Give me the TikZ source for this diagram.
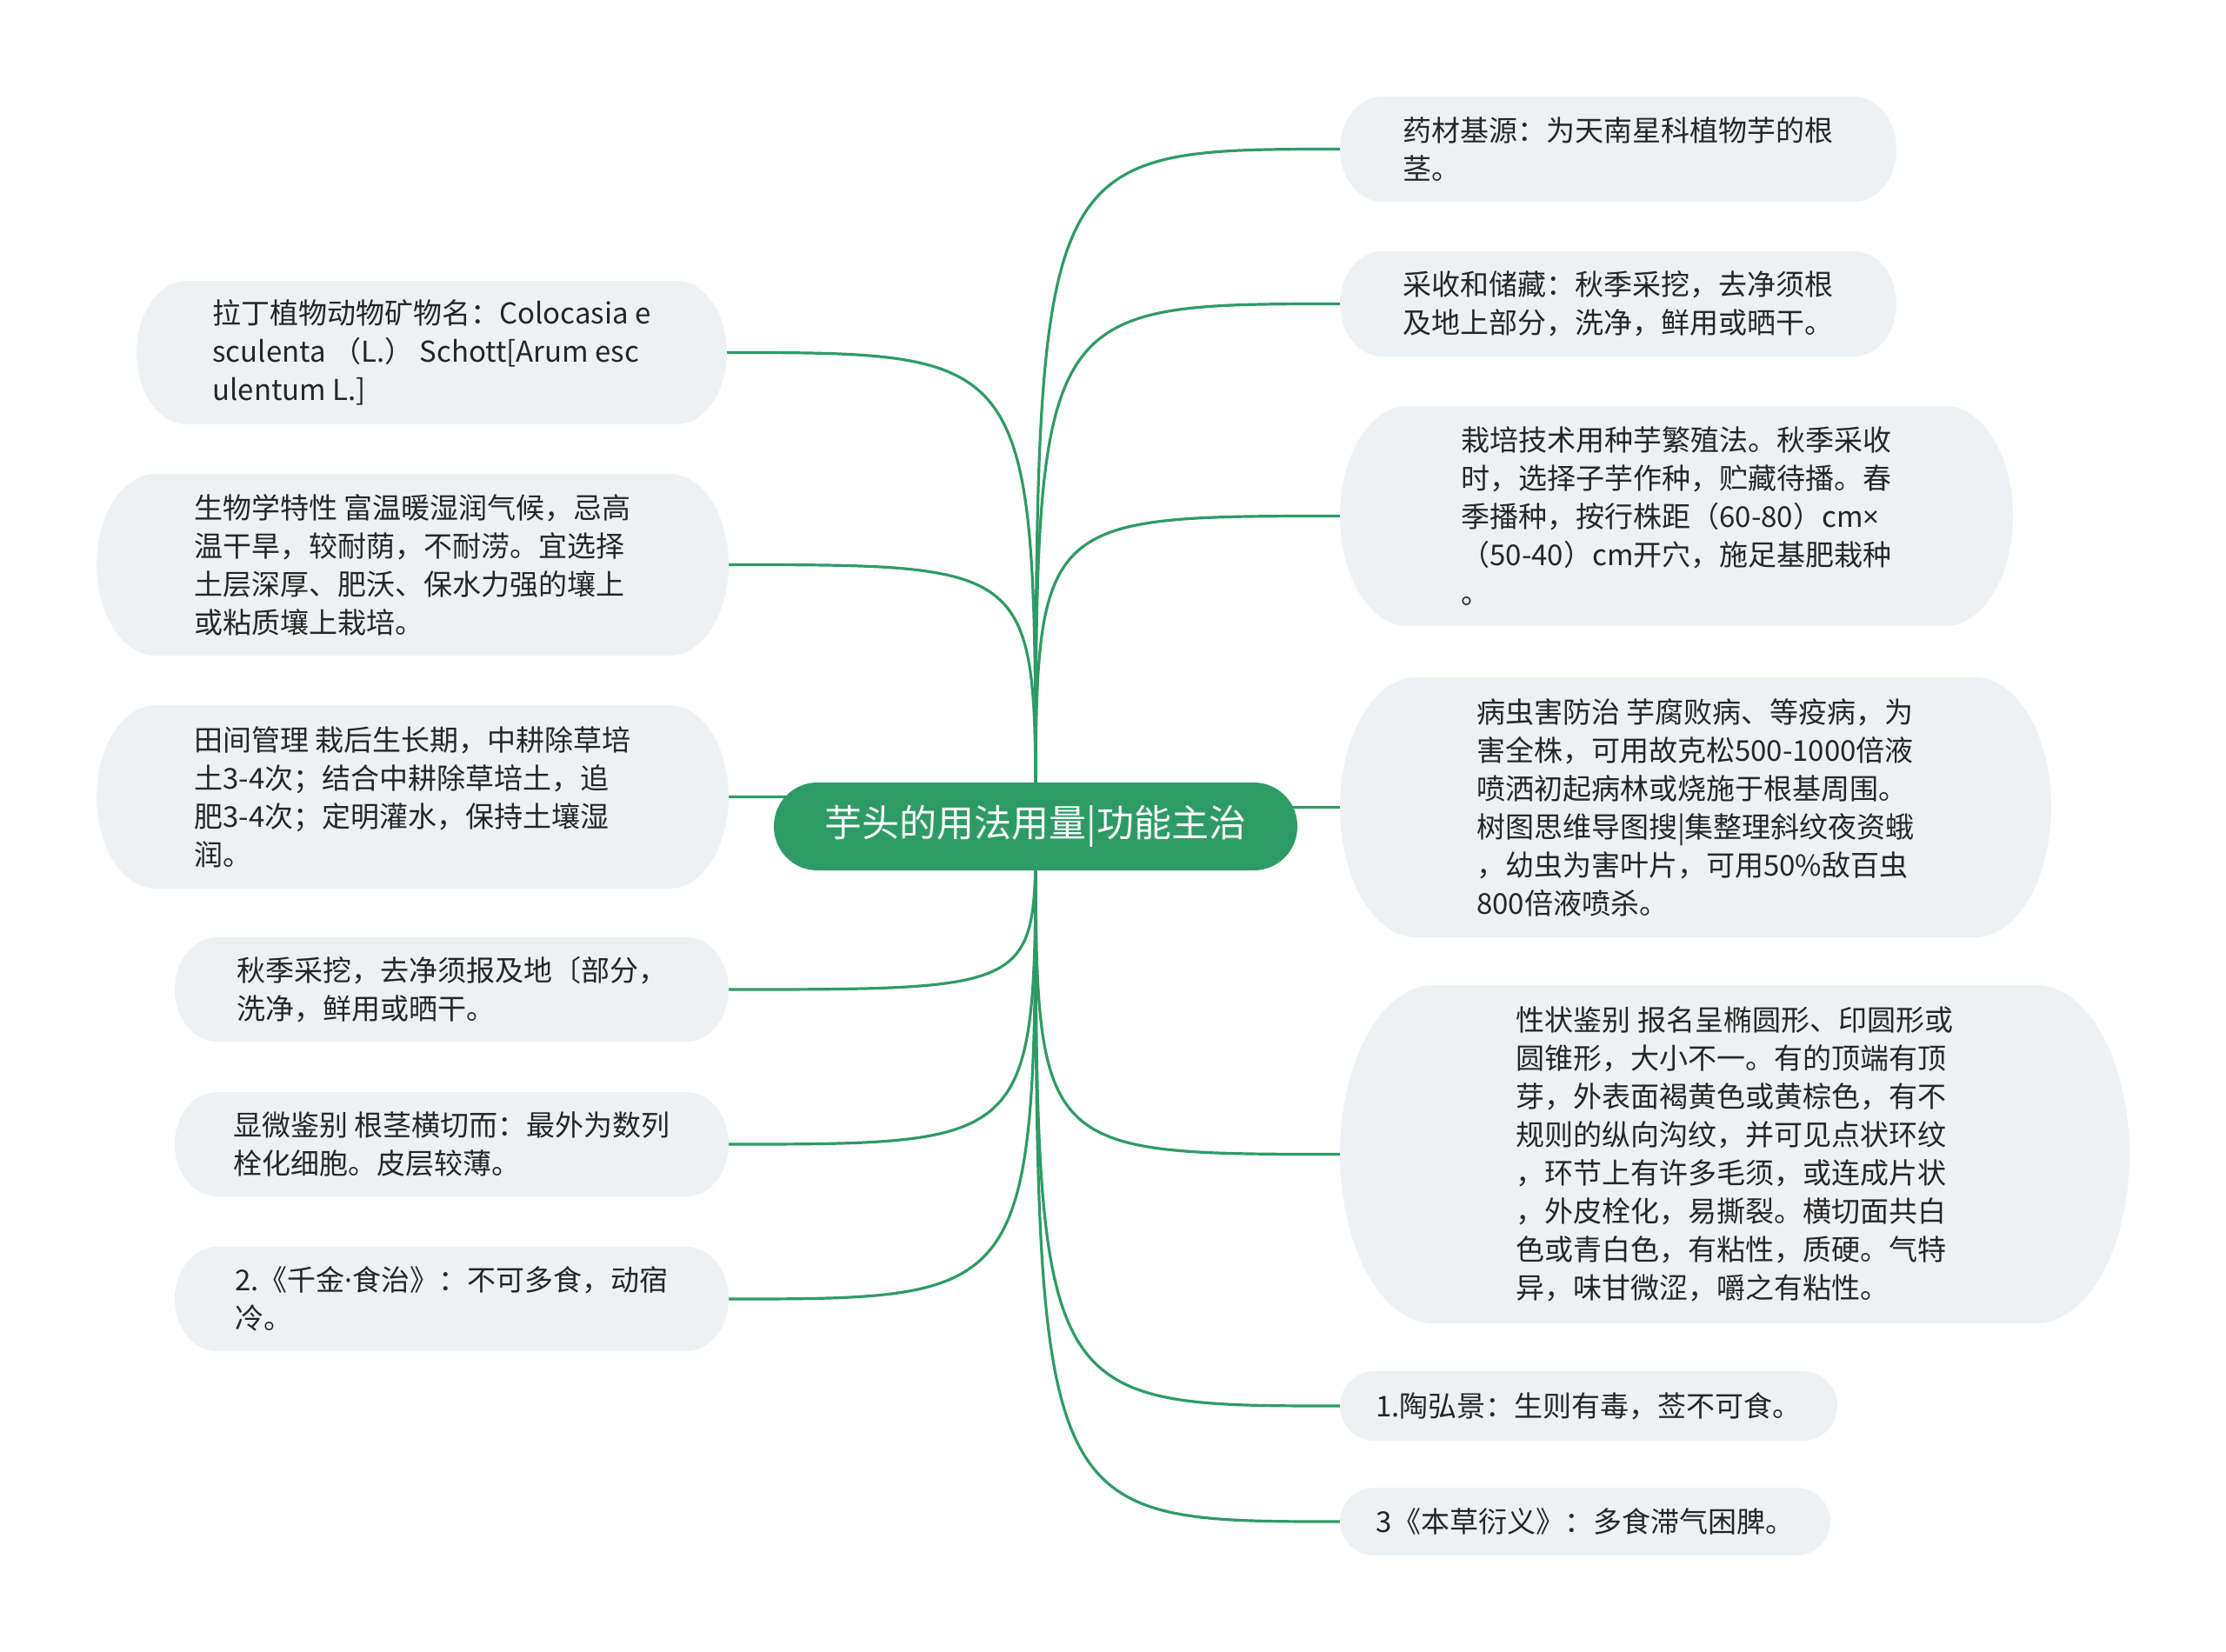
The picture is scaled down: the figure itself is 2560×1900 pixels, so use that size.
\documentclass[tikz,border=0pt]{standalone}
\usepackage{fontspec}
\setmainfont{Noto Sans CJK SC}
\newfontfamily\latinf{Noto Sans}
\usetikzlibrary{calc}
\definecolor{boxfill}{HTML}{EEF1F4}
\definecolor{mgreen}{HTML}{2E9B66}
\definecolor{txt}{HTML}{262626}
\pgfdeclarelayer{bg}
\pgfsetlayers{bg,main}
\newcommand\bubble[6]{%
  \pgfmathsetmacro\bh{(#5-#3)/2}%
  \pgfmathsetmacro\brx{0.22*(#5-#3)+22}%
  \fill[boxfill] (#2+\brx,#3) -- (#4-\brx,#3)
    arc[start angle=-90,end angle=90,x radius=\brx,y radius=\bh]
    -- (#2+\brx,#5)
    arc[start angle=90,end angle=270,x radius=\brx,y radius=\bh] -- cycle;
  \node[bubtext,minimum width={#4-#2},minimum height={#5-#3}] (#1) at ({(#2+#4)/2},{(#3+#5)/2}) {#6};
}
\tikzset{
  bubtext/.style={rectangle,inner sep=0pt,align=left,text=txt,font=\fontsize{33}{44}\selectfont},
  conn/.style={draw=mgreen,line width=3.2pt},
  centre/.style={rectangle,rounded corners=50pt,fill=mgreen,text=white,inner sep=0pt,font=\fontsize{43}{50}\selectfont}
}
\begin{document}
\begin{tikzpicture}[x=1pt,y=-1pt]
\useasboundingbox (0,0) rectangle (2560,1900);
\node[centre,minimum width=602,minimum height=101] (c) at (1191,950.5) {芋头的用法用量|功能主治};
\bubble{l1}{157}{323}{836}{488}{拉丁植物动物矿物名：Colocasia e\\sculenta （L.） Schott[Arum esc\\ulentum L.]}
\bubble{l2}{111}{545}{838}{754}{生物学特性 富温暖湿润气候，忌高\\温干旱，较耐荫，不耐涝。宜选择\\土层深厚、肥沃、保水力强的壤上\\或粘质壤上栽培。}
\bubble{l3}{111}{811}{838}{1022}{田间管理 栽后生长期，中耕除草培\\土3-4次；结合中耕除草培土，追\\肥3-4次；定明灌水，保持土壤湿\\润。}
\bubble{l4}{201}{1078}{838}{1198}{秋季采挖，去净须报及地〔部分，\\洗净，鲜用或晒干。}
\bubble{l5}{201}{1256}{838}{1376}{显微鉴别 根茎横切而：最外为数列\\栓化细胞。皮层较薄。}
\bubble{l6}{201}{1434}{838}{1554}{2.《千金{\latinf ·}食治》：不可多食，动宿\\冷。}
\bubble{r1}{1541}{111}{2181}{232}{药材基源：为天南星科植物芋的根\\茎。}
\bubble{r2}{1541}{289}{2181}{410}{采收和储藏：秋季采挖，去净须根\\及地上部分，洗净，鲜用或晒干。}
\bubble{r3}{1541}{467}{2315}{720}{栽培技术用种芋繁殖法。秋季采收\\时，选择子芋作种，贮藏待播。春\\季播种，按行株距（60-80）cm{\latinf ×}\\（50-40）cm开穴，施足基肥栽种\\。}
\bubble{r4}{1541}{779}{2359}{1078}{病虫害防治 芋腐败病、等疫病，为\\害全株，可用故克松500-1000倍液\\喷洒初起病林或烧施于根基周围。\\树图思维导图搜|集整理斜纹夜资蛾\\，幼虫为害叶片，可用50\%敌百虫\\800倍液喷杀。}
\bubble{r5}{1541}{1133}{2449}{1522}{性状鉴别 报名呈椭圆形、印圆形或\\圆锥形，大小不一。有的顶端有顶\\芽，外表面褐黄色或黄棕色，有不\\规则的纵向沟纹，并可见点状环纹\\，环节上有许多毛须，或连成片状\\，外皮栓化，易撕裂。横切面共白\\色或青白色，有粘性，质硬。气特\\异，味甘微涩，嚼之有粘性。}
\bubble{r6}{1541}{1577}{2113}{1657}{1.陶弘景：生则有毒，莶不可食。}
\bubble{r7}{1541}{1711}{2105}{1789}{3《本草衍义》：多食滞气困脾。}
\begin{pgfonlayer}{bg}
\fill[white] (0,0) rectangle (2560,1900);
\foreach \n in {l1,l2,l3,l4,l5,l6}
  \draw[conn] (c.center) .. controls (c.center |- \n.east) .. (\n.east);
\foreach \n in {r1,r2,r3,r4,r5,r6,r7}
  \draw[conn] (c.center) .. controls (c.center |- \n.west) .. (\n.west);
\end{pgfonlayer}
\end{tikzpicture}
\end{document}
